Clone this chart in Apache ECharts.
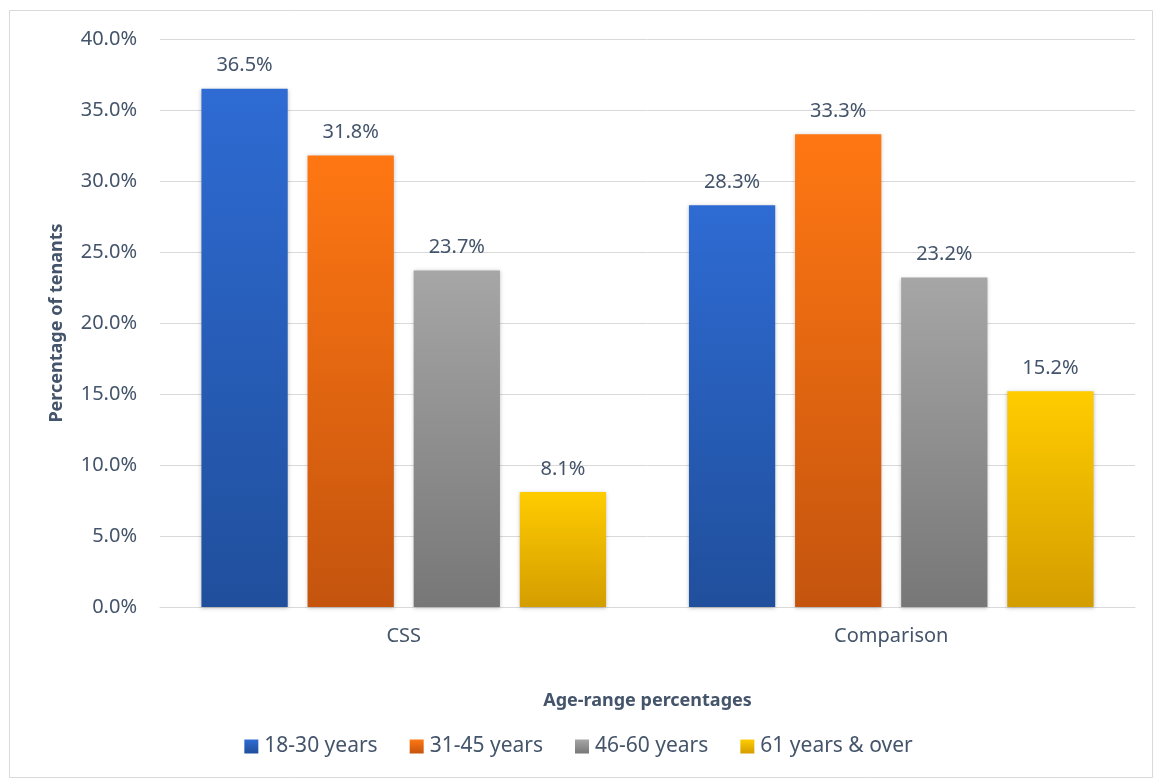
<!DOCTYPE html>
<html>
<head>
<meta charset="utf-8">
<script src="https://cdn.jsdelivr.net/npm/echarts@6/dist/echarts.min.js"></script>
<style>
html,body{margin:0;padding:0;background:#fff;}
#main{width:1157px;height:778px;}
</style>
</head>
<body>
<div id="main"></div>
<script>
const categories = ['CSS', 'Comparison'];
const seriesNames = ['18-30 years', '31-45 years', '46-60 years', '61 years & over'];
const age18to30 = [36.5, 28.3];
const age31to45 = [31.8, 33.3];
const age46to60 = [23.7, 23.2];
const age61plus = [8.1, 15.2];
const yTicks = [0, 5, 10, 15, 20, 25, 30, 35, 40];

const topColors = ['#2E6BD3', '#FF7713', '#A6A6A6', '#FFCC00'];
const bottomColors = ['#204F9C', '#C4540E', '#777777', '#D49D00'];
const values = [age18to30, age31to45, age46to60, age61plus];

const fontFam = '"Noto Sans", "Open Sans", sans-serif';
const txt = '#44546A';
const fs = 20;

const chart = echarts.init(document.getElementById('main'));
chart.setOption({
  animation: false,
  textStyle: { fontFamily: fontFam },
  graphic: [{
    type: 'rect', left: 7, top: 8,
    shape: { width: 1143, height: 767 },
    style: { fill: 'none', stroke: '#D9D9D9', lineWidth: 1 }
  }],
  grid: { left: 160, right: 22, top: 39, bottom: 171, containLabel: false },
  legend: {
    bottom: 16, left: 'center',
    itemWidth: 14, itemHeight: 14, itemGap: 32,
    icon: 'rect',
    textStyle: { fontSize: 21, color: txt, fontFamily: fontFam, padding: [0, 0, 0, 1] },
    data: seriesNames
  },
  xAxis: {
    type: 'category',
    data: categories,
    name: 'Age-range percentages',
    nameLocation: 'middle',
    nameGap: 85,
    nameTextStyle: { fontSize: 18, fontWeight: 'bold', color: txt },
    axisLine: { lineStyle: { color: '#D9D9D9' } },
    axisTick: { show: false },
    axisLabel: { fontSize: fs, color: txt, margin: 19 }
  },
  yAxis: {
    type: 'value',
    min: 0, max: 40, interval: 5,
    name: 'Percentage of tenants',
    nameLocation: 'middle',
    nameGap: 94,
    nameRotate: 90,
    nameTextStyle: { fontSize: 18, fontWeight: 'bold', color: txt },
    axisLine: { show: false },
    axisTick: { show: false },
    splitLine: { lineStyle: { color: '#D9D9D9', width: 1 } },
    axisLabel: {
      fontSize: fs, color: txt, margin: 23,
      formatter: v => yTicks.includes(v) ? v.toFixed(1) + '%' : ''
    }
  },
  series: seriesNames.map((name, i) => ({
    name,
    type: 'bar',
    data: values[i],
    barGap: '23%',
    barCategoryGap: '17%',
    itemStyle: {
      color: new echarts.graphic.LinearGradient(0, 0, 0, 1, [
        { offset: 0, color: topColors[i] },
        { offset: 1, color: bottomColors[i] }
      ]),
      shadowColor: 'rgba(0,0,0,0.25)',
      shadowBlur: 4,
      shadowOffsetY: 1
    },
    label: {
      show: true, position: 'top', distance: 13,
      fontSize: fs, color: txt,
      formatter: p => p.value.toFixed(1) + '%'
    }
  }))
});
</script>
</body>
</html>
